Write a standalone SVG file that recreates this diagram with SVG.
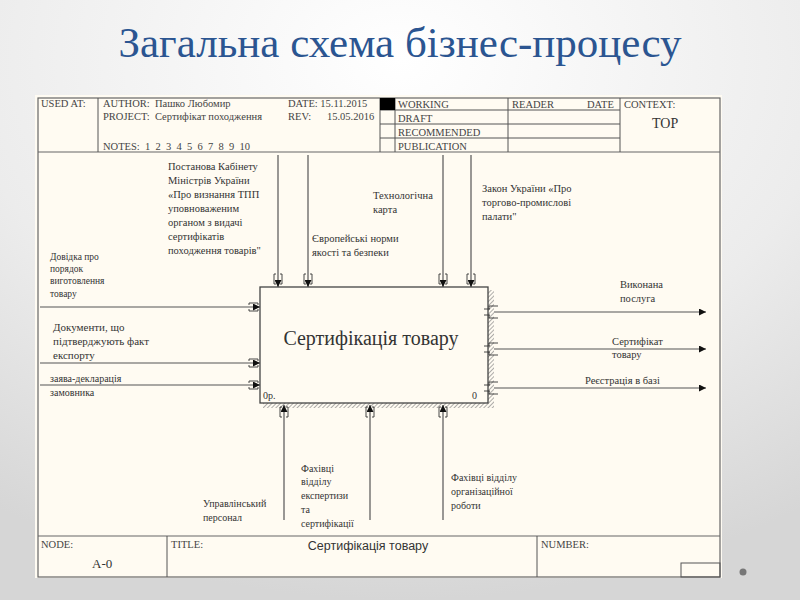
<svg xmlns="http://www.w3.org/2000/svg" width="800" height="600" viewBox="0 0 800 600">
<defs>
<radialGradient id="bg" cx="0.5" cy="0.1" r="0.9">
<stop offset="0" stop-color="#ffffff"/>
<stop offset="0.6" stop-color="#ececec"/>
<stop offset="1" stop-color="#d6d6d6"/>
</radialGradient>
<pattern id="hatch" width="3" height="3" patternUnits="userSpaceOnUse" patternTransform="rotate(45)">
<rect width="3" height="3" fill="#fffbf2"/>
<line x1="0" y1="0" x2="0" y2="3" stroke="#777" stroke-width="1.2"/>
</pattern>
<marker id="arr" viewBox="0 0 10 10" refX="10" refY="5" markerWidth="9" markerHeight="7" markerUnits="userSpaceOnUse" orient="auto">
<path d="M0,0 L10,5 L0,10 z" fill="#111"/>
</marker>
</defs>
<style>
.ln{stroke:#555;stroke-width:1;fill:none}
.fr{stroke:#666;stroke-width:1.2;fill:none}
.ar{stroke:#555;stroke-width:1.2;fill:none}
.br{stroke:#333;stroke-width:0.9;fill:none}
.t{font-family:"Liberation Serif","Times New Roman",serif;fill:#333}
.h{font-family:"Liberation Serif","Times New Roman",serif;font-size:10.5px;fill:#444;white-space:pre}
</style>
<rect width="800" height="600" fill="url(#bg)"/>
<circle cx="743" cy="572" r="3.5" fill="#777"/>
<text x="400" y="57" text-anchor="middle" font-family="Liberation Serif, Times New Roman, serif" font-size="43" fill="#2b5591">Загальна схема бізнес-процесу</text>

<g id="frame">
<rect x="35" y="95" width="687" height="483" fill="#fffbf2"/>
<rect x="38" y="98" width="682" height="479" class="fr"/>
<line x1="38" y1="152" x2="720" y2="152" class="fr"/>
<line x1="38" y1="536" x2="720" y2="536" class="fr"/>
<line x1="98" y1="98" x2="98" y2="152" class="ln"/>
<line x1="380" y1="98" x2="380" y2="152" class="ln"/>
<line x1="395" y1="98" x2="395" y2="152" class="ln"/>
<line x1="508" y1="98" x2="508" y2="152" class="ln"/>
<line x1="620" y1="98" x2="620" y2="152" class="ln"/>
<line x1="380" y1="110" x2="620" y2="110" class="ln"/>
<line x1="380" y1="124" x2="620" y2="124" class="ln"/>
<line x1="380" y1="138" x2="620" y2="138" class="ln"/>
<rect x="380" y="98" width="15" height="12" fill="#000"/>
<line x1="167" y1="536" x2="167" y2="577" class="ln"/>
<line x1="537" y1="536" x2="537" y2="577" class="ln"/>
<rect x="681" y="563" width="39" height="14" class="ln"/>
<text class="h" x="41" y="107">USED AT:</text>
<text class="h" x="103" y="107">AUTHOR:  Пашко Любомир</text>
<text class="h" x="103" y="120">PROJECT:  Сертифікат походження</text>
<text class="h" x="103" y="150">NOTES:  1  2  3  4  5  6  7  8  9  10</text>
<text class="h" x="288" y="107">DATE: 15.11.2015</text>
<text class="h" x="288" y="120">REV:      15.05.2016</text>
<text class="h" x="398" y="108">WORKING</text>
<text class="h" x="398" y="122">DRAFT</text>
<text class="h" x="398" y="136">RECOMMENDED</text>
<text class="h" x="398" y="150">PUBLICATION</text>
<text class="h" x="512" y="108">READER</text>
<text class="h" x="587" y="108">DATE</text>
<text class="h" x="624" y="108">CONTEXT:</text>
<text class="t" x="652" y="128" font-size="14">TOP</text>
<text class="h" x="41" y="548" font-size="9.5">NODE:</text>
<text class="t" x="92" y="568" font-size="13">A-0</text>
<text class="h" x="171" y="548" font-size="9.5">TITLE:</text>
<text x="368" y="550" text-anchor="middle" font-family="Liberation Sans, Arial, sans-serif" font-size="12.5" fill="#333">Сертифікація товару</text>
<text class="h" x="541" y="548" font-size="9.5">NUMBER:</text>
</g>

<g id="box">
<rect x="488" y="290" width="6" height="118" fill="url(#hatch)"/>
<rect x="263" y="403" width="231" height="5" fill="url(#hatch)"/>
<rect x="260" y="287" width="228" height="116" fill="#fffbf2" stroke="#444" stroke-width="1.3"/>
<text class="t" x="371" y="345" text-anchor="middle" font-size="20">Сертифікація товару</text>
<text class="t" x="263" y="399" font-size="10">0р.</text>
<text class="t" x="472" y="399" font-size="10">0</text>
</g>

<g id="connectors">
<line x1="278" y1="155" x2="278" y2="287" class="ar" marker-end="url(#arr)"/>
<line x1="308" y1="155" x2="308" y2="287" class="ar" marker-end="url(#arr)"/>
<line x1="443" y1="155" x2="443" y2="287" class="ar" marker-end="url(#arr)"/>
<line x1="471" y1="155" x2="471" y2="287" class="ar" marker-end="url(#arr)"/>
<line x1="40" y1="307" x2="260" y2="307" class="ar" marker-end="url(#arr)"/>
<line x1="40" y1="363" x2="260" y2="363" class="ar" marker-end="url(#arr)"/>
<line x1="40" y1="385" x2="260" y2="385" class="ar" marker-end="url(#arr)"/>
<line x1="494" y1="312" x2="706" y2="312" class="ar" marker-end="url(#arr)"/>
<line x1="494" y1="349" x2="706" y2="349" class="ar" marker-end="url(#arr)"/>
<line x1="494" y1="388" x2="706" y2="388" class="ar" marker-end="url(#arr)"/>
<line x1="284" y1="520" x2="284" y2="405" class="ar" marker-end="url(#arr)"/>
<line x1="370" y1="520" x2="370" y2="405" class="ar" marker-end="url(#arr)"/>
<line x1="443" y1="520" x2="443" y2="405" class="ar" marker-end="url(#arr)"/>
<path class="br" d="M274,274 v10 h2 M282,274 v10 h-2 M274,274 h2 M282,274 h-2"/>
<path class="br" d="M304,274 v10 h2 M312,274 v10 h-2 M304,274 h2 M312,274 h-2"/>
<path class="br" d="M439,274 v10 h2 M447,274 v10 h-2 M439,274 h2 M447,274 h-2"/>
<path class="br" d="M467,274 v10 h2 M475,274 v10 h-2 M467,274 h2 M475,274 h-2"/>
<path class="br" d="M249,303 h9 v2 M249,311 h9 v-2 M249,303 v2 M249,311 v-2"/>
<path class="br" d="M249,359 h9 v2 M249,367 h9 v-2 M249,359 v2 M249,367 v-2"/>
<path class="br" d="M249,381 h9 v2 M249,389 h9 v-2 M249,381 v2 M249,389 v-2"/>
<path class="br" d="M498,306 h-9 v3 M498,318 h-9 v-3 M484,309 h6 M484,315 h6"/>
<path class="br" d="M498,343 h-9 v3 M498,355 h-9 v-3 M484,346 h6 M484,352 h6"/>
<path class="br" d="M498,382 h-9 v3 M498,394 h-9 v-3 M484,385 h6 M484,391 h6"/>
<path class="br" d="M280,417 v-10 h2 M288,417 v-10 h-2 M280,417 h2 M288,417 h-2"/>
<path class="br" d="M366,417 v-10 h2 M374,417 v-10 h-2 M366,417 h2 M374,417 h-2"/>
<path class="br" d="M439,417 v-10 h2 M447,417 v-10 h-2 M439,417 h2 M447,417 h-2"/>
</g>

<g id="labels" class="t">
<text x="168" y="170" font-size="10.5">Постанова Кабінету</text>
<text x="168" y="184" font-size="10.5">Міністрів України</text>
<text x="168" y="198" font-size="10.5">«Про визнання ТПП</text>
<text x="168" y="212" font-size="10.5">уповноваженим</text>
<text x="168" y="226" font-size="10.5">органом з видачі</text>
<text x="168" y="240" font-size="10.5">сертифікатів</text>
<text x="168" y="254" font-size="10.5">походження товарів"</text>
<text x="373" y="199" font-size="10.5">Технологічна</text>
<text x="373" y="213" font-size="10.5">карта</text>
<text x="312" y="242" font-size="10.5">Європейські норми</text>
<text x="312" y="256" font-size="10.5">якості та безпеки</text>
<text x="482" y="192" font-size="10.5">Закон України «Про</text>
<text x="482" y="206" font-size="10.5">торгово-промислові</text>
<text x="482" y="220" font-size="10.5">палати"</text>
<text x="50" y="260" font-size="9.5">Довідка про</text>
<text x="50" y="272" font-size="9.5">порядок</text>
<text x="50" y="284" font-size="9.5">виготовлення</text>
<text x="50" y="297" font-size="9.5">товару</text>
<text x="53" y="331" font-size="11">Документи, що</text>
<text x="53" y="345" font-size="11">підтверджують факт</text>
<text x="53" y="359" font-size="11">експорту</text>
<text x="50" y="382" font-size="10">заява-декларація</text>
<text x="50" y="396" font-size="10">замовника</text>
<text x="620" y="288" font-size="10.5">Виконана</text>
<text x="620" y="302" font-size="10.5">послуга</text>
<text x="612" y="345" font-size="10.5">Сертифікат</text>
<text x="612" y="358" font-size="10.5">товару</text>
<text x="585" y="384" font-size="10.5">Реєстрація в базі</text>
<text x="203" y="507" font-size="10">Управлінський</text>
<text x="203" y="521" font-size="10">персонал</text>
<text x="301" y="472" font-size="10">Фахівці</text>
<text x="301" y="485" font-size="10">відділу</text>
<text x="301" y="499" font-size="10">експертизи</text>
<text x="301" y="513" font-size="10">та</text>
<text x="301" y="527" font-size="10">сертифікації</text>
<text x="451" y="481" font-size="10">Фахівці відділу</text>
<text x="451" y="495" font-size="10">організаційної</text>
<text x="451" y="509" font-size="10">роботи</text>
</g>
</svg>
